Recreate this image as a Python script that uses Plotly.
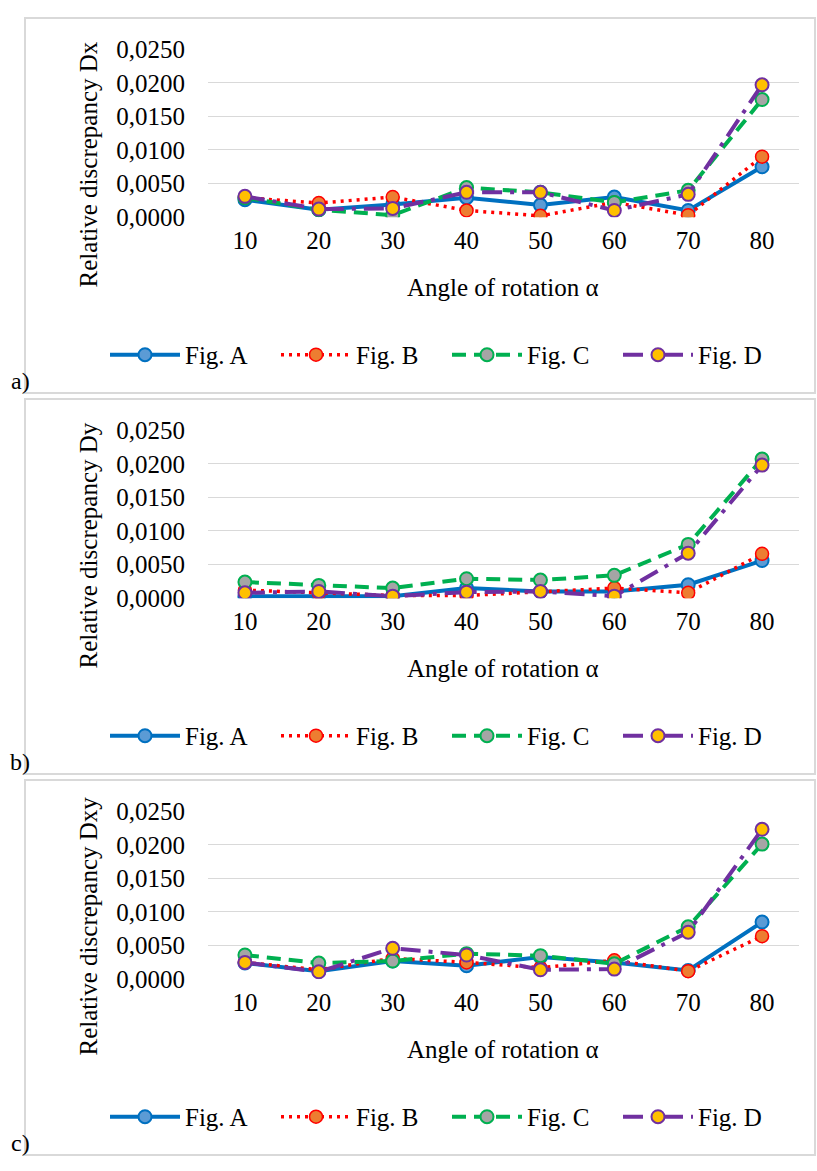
import plotly.graph_objects as go

angles = [10, 20, 30, 40, 50, 60, 70, 80]
x_ticks = ["10", "20", "30", "40", "50", "60", "70", "80"]
y_ticks = [0.0, 0.005, 0.010, 0.015, 0.020, 0.025]

series_names = ["Fig. A", "Fig. B", "Fig. C", "Fig. D"]

dx_a = [0.0026, 0.0011, 0.0019, 0.0029, 0.0018, 0.0030, 0.0010, 0.0075]
dx_b = [0.0029, 0.0021, 0.0030, 0.0010, 0.0002, 0.0022, 0.0003, 0.0090]
dx_c = [0.0029, 0.0011, 0.0003, 0.0044, 0.0037, 0.0022, 0.0040, 0.0175]
dx_d = [0.0031, 0.0012, 0.0013, 0.0037, 0.0037, 0.0010, 0.0034, 0.0197]

dy_a = [0.0003, 0.0003, 0.0003, 0.0015, 0.0010, 0.0010, 0.0020, 0.0056]
dy_b = [0.0012, 0.0008, 0.0004, 0.0004, 0.0010, 0.0015, 0.0008, 0.0066]
dy_c = [0.0024, 0.0019, 0.0015, 0.0029, 0.0027, 0.0034, 0.0080, 0.0207]
dy_d = [0.0008, 0.0010, 0.0003, 0.0009, 0.0010, 0.0003, 0.0067, 0.0198]

dxy_a = [0.0024, 0.0012, 0.0027, 0.0020, 0.0033, 0.0025, 0.0013, 0.0085]
dxy_b = [0.0025, 0.0014, 0.0031, 0.0025, 0.0017, 0.0028, 0.0012, 0.0064]
dxy_c = [0.0036, 0.0024, 0.0027, 0.0038, 0.0035, 0.0023, 0.0078, 0.0201]
dxy_d = [0.0025, 0.0011, 0.0046, 0.0036, 0.0014, 0.0015, 0.0070, 0.0223]

panel_titles = ["Relative discrepancy Dx", "Relative discrepancy Dy", "Relative discrepancy Dxy"]
panel_labels = ["a)", "b)", "c)"]
panel_data = [[dx_a, dx_b, dx_c, dx_d], [dy_a, dy_b, dy_c, dy_d], [dxy_a, dxy_b, dxy_c, dxy_d]]

W, H = 817, 1171
FONT = "Liberation Serif"

styles = [
    dict(line=dict(color="#0070C0", width=4, dash="solid"),
         marker=dict(symbol="circle", size=13, color="#5B9BD5", line=dict(color="#0070C0", width=2))),
    dict(line=dict(color="#FF0000", width=3.5, dash="3px,5px"),
         marker=dict(symbol="circle", size=13, color="#ED7D31", line=dict(color="#FF0000", width=1.5))),
    dict(line=dict(color="#00B050", width=4, dash="14px,8px"),
         marker=dict(symbol="circle", size=13, color="#A5A5A5", line=dict(color="#00B050", width=2))),
    dict(line=dict(color="#7030A0", width=4, dash="20px,8px,4px,8px"),
         marker=dict(symbol="circle", size=13, color="#FFC000", line=dict(color="#7030A0", width=2))),
]

fig = go.Figure()
shapes = []
annotations = []
layout_extra = {}

def py(p):
    return 1 - p / H

for i in range(3):
    off = 390 * i
    sfx = "" if i == 0 else str(i + 1)
    leg = "legend" if i == 0 else f"legend{i + 1}"
    for j in range(4):
        fig.add_trace(go.Scatter(
            x=angles, y=panel_data[i][j], name=series_names[j], mode="lines+markers",
            xaxis="x" + sfx, yaxis="y" + sfx, legend=leg, **styles[j]))
    layout_extra["xaxis" + sfx] = dict(
        domain=[208 / W, 799 / W], range=[5, 85], tickvals=angles, ticktext=x_ticks,
        showgrid=False, zeroline=False, showline=False, ticks="", anchor="y" + sfx,
        tickfont=dict(family=FONT, size=25, color="black"), ticklabelstandoff=6)
    layout_extra["yaxis" + sfx] = dict(
        domain=[py(209 + off), py(37 + off)], range=[0, 0.025], tickvals=y_ticks,
        tickformat=".4f", showgrid=True, gridcolor="#D9D9D9", gridwidth=1,
        zeroline=False, showline=False, ticks="", anchor="x" + sfx,
        tickfont=dict(family=FONT, size=25, color="black"), ticklabelstandoff=22)
    layout_extra[leg] = dict(
        orientation="h", x=105 / W, xanchor="left", y=py(350 + off), yanchor="middle",
        font=dict(family=FONT, size=25, color="black"), bgcolor="rgba(0,0,0,0)",
        entrywidth=86, entrywidthmode="pixels", itemwidth=70, tracegroupgap=0)
    shapes.append(dict(type="rect", xref="paper", yref="paper",
                       x0=25 / W, x1=815 / W, y0=py(389 + off), y1=py(5 + off),
                       line=dict(color="#D9D9D9", width=2), fillcolor="rgba(0,0,0,0)"))
    annotations.append(dict(text=panel_titles[i], xref="paper", yref="paper",
                            x=88 / W, y=py(155 + off), textangle=-90, showarrow=False,
                            font=dict(family=FONT, size=25, color="black"),
                            xanchor="center", yanchor="middle"))
    annotations.append(dict(text="Angle of rotation α", xref="paper", yref="paper",
                            x=503 / W, y=py(281 + off), showarrow=False,
                            font=dict(family=FONT, size=25, color="black"),
                            xanchor="center", yanchor="middle"))
    annotations.append(dict(text=panel_labels[i], xref="paper", yref="paper",
                            x=20 / W, y=py(377 + off), showarrow=False,
                            font=dict(family=FONT, size=24, color="black"),
                            xanchor="center", yanchor="middle"))

fig.update_layout(
    width=W, height=H, margin=dict(l=0, r=0, t=0, b=0, pad=0),
    font=dict(family=FONT, size=25, color="black"),
    paper_bgcolor="white", plot_bgcolor="white", separators=", ",
    showlegend=True, shapes=shapes, annotations=annotations, **layout_extra)

fig.write_html("out.html")
